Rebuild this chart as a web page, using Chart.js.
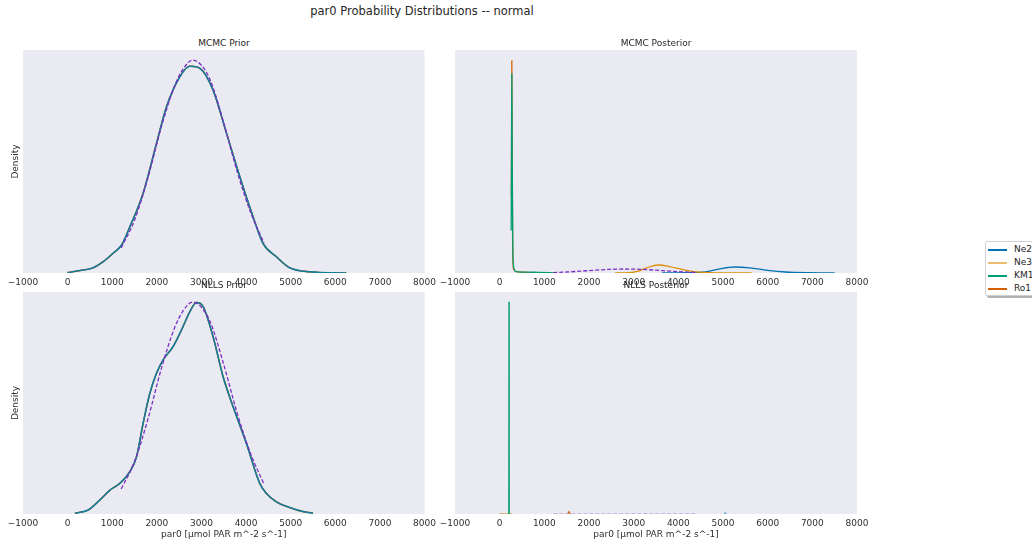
<!DOCTYPE html>
<html>
<head>
<meta charset="utf-8">
<script src="https://cdn.jsdelivr.net/npm/chart.js@4.4.1/dist/chart.umd.min.js"></script>
<style>
body { margin: 0; width: 1032px; height: 544px; position: relative; overflow: hidden; background: #fff; font-family: 'DejaVu Sans', sans-serif; color: #262626; }
canvas { position: absolute; }
.lbl { position: absolute; transform: translate(-50%, -50%); white-space: nowrap; font-size: 9px; }
#title { font-size: 11.5px; }
#legend { position: absolute; left: 985px; top: 241px; width: 70px; height: 53px; background: #fff; border: 1px solid #d0d0d0; border-radius: 2px; box-shadow: 2px 2px 0 rgba(0,0,0,0.3); font-size: 9px; }
#legend .row { position: absolute; left: 0; width: 70px; height: 13px; line-height: 13px; }
#legend .sw { position: absolute; left: 2px; top: 6px; width: 19px; height: 1.5px; }
#legend .tx { position: absolute; left: 28px; top: 0; }
</style>
</head>
<body>
<canvas id="mcmcPrior" width="440" height="244" style="left:0;top:50px"></canvas>
<canvas id="mcmcPost" width="448" height="244" style="left:432px;top:50px"></canvas>
<canvas id="nllsPrior" width="440" height="252" style="left:0;top:292px"></canvas>
<canvas id="nllsPost" width="448" height="252" style="left:432px;top:292px"></canvas>

<div class="lbl" id="title" style="left:422px;top:11px">par0 Probability Distributions -- normal</div>
<div class="lbl" style="left:224px;top:43px">MCMC Prior</div>
<div class="lbl" style="left:656px;top:43px">MCMC Posterior</div>
<div class="lbl" style="left:224px;top:285px">NLLS Prior</div>
<div class="lbl" style="left:656px;top:285px">NLLS Posterior</div>
<div id="legend"></div>

<script>
const siteNames = ['Ne2', 'Ne3', 'KM1', 'Ro1'];
const xMin = -1000;
const xMax = 8000;
const xStep = 1000;
const xLabel = 'par0 [µmol PAR m^-2 s^-1]';

// density values are in units of 1e-4
// prior KDE, same samples for every site
const mcmcPriorX = [0, 276, 574, 798, 1022, 1209, 1395, 1693, 1993, 2217, 2515, 2739, 2962, 3261, 3560, 3858, 4156, 4380, 4679, 4977, 5425, 6246];
const mcmcPriorY = [0.01, 0.06, 0.13, 0.28, 0.49, 0.69, 1.14, 1.97, 3.2, 4.1, 4.84, 5.1, 5.05, 4.51, 3.45, 2.38, 1.39, 0.73, 0.4, 0.13, 0.03, 0];

const nllsPriorX = [164, 462, 724, 948, 1172, 1395, 1545, 1693, 1843, 1993, 2141, 2365, 2552, 2739, 2888, 3037, 3261, 3485, 3709, 4007, 4306, 4455, 4679, 4977, 5276, 5500];
const nllsPriorY = [0.02, 0.1, 0.35, 0.59, 0.76, 1.05, 1.42, 2.25, 2.99, 3.49, 3.82, 4.15, 4.56, 5.01, 5.24, 5.14, 4.39, 3.4, 2.66, 1.75, 0.76, 0.51, 0.3, 0.16, 0.06, 0.02];

// prior normal pdf (dashed)
const priorPdfX = [1200, 1500, 1800, 2100, 2400, 2600, 2800, 3000, 3200, 3500, 3800, 4100, 4400];
const priorPdfY = [0.62, 1.3, 2.35, 3.6, 4.62, 5.05, 5.25, 5.12, 4.75, 3.7, 2.5, 1.5, 0.74];

// MCMC posterior KDEs
const mcmcNe2X = [3630, 4200, 4600, 4900, 5250, 5600, 6000, 6400, 6900, 7500];
const mcmcNe2Y = [0, 0.3, 1.5, 5, 7.9, 6.8, 3.5, 1.3, 0.3, 0];
const mcmcNe3X = [2580, 2900, 3100, 3300, 3550, 3800, 4100, 4400, 4700, 5200, 5640];
const mcmcNe3Y = [0, 0.4, 2.5, 7, 10.5, 8.5, 4.5, 1.5, 0.4, 0.1, 0];
const mcmcKM1X = [258, 265, 272, 280, 295, 320, 360, 500, 800, 1100, 1250];
const mcmcKM1Y = [56, 160, 262, 150, 30, 6, 2, 1.2, 1.0, 0.6, 0];
const mcmcRo1X = [262, 268, 272, 278, 290, 310, 400, 600, 900, 1200];
const mcmcRo1Y = [100, 200, 279, 200, 40, 5, 1.5, 0.8, 0.3, 0];

// NLLS posterior KDEs
const nllsNe2X = [5030, 5050, 5070];
const nllsNe2Y = [0, 60, 0];
const nllsNe3X = [-20, 100, 290];
const nllsNe3Y = [10, 20, 10];
const nllsKM1X = [205, 209, 213];
const nllsKM1Y = [0, 9560, 0];
const nllsRo1X = [1520, 1550, 1580];
const nllsRo1Y = [0, 100, 0];

const yMaxMcmcPrior = 5.5;
const yMaxMcmcPost = 293;
const yMaxNllsPrior = 5.5;
const yMaxNllsPost = 10000;

const colors = { Ne2: '#0173b2', Ne3: '#de8f05', KM1: '#029e73', Ro1: '#d55e00' };
const priorColor = '#7b2fc4';

Chart.defaults.font.family = "'DejaVu Sans', sans-serif";
Chart.defaults.color = '#303030';

const plotBg = {
  id: 'plotBg',
  beforeDraw(chart) {
    const a = chart.chartArea;
    const ctx = chart.ctx;
    ctx.save();
    ctx.fillStyle = '#eaeaf2';
    ctx.fillRect(a.left, a.top, a.right - a.left, a.bottom - a.top);
    ctx.restore();
  }
};

function pts(xs, ys) {
  return xs.map((x, i) => ({ x: x, y: ys[i] }));
}

function line(label, xs, ys, color, order, extra) {
  return Object.assign({
    label: label,
    data: pts(xs, ys),
    borderColor: color,
    borderWidth: 1.3,
    pointRadius: 0,
    fill: false,
    cubicInterpolationMode: 'monotone',
    clip: 0,
    order: order
  }, extra || {});
}

function priorLine(color) {
  return line('prior', priorPdfX, priorPdfY, color || priorColor, -1, { borderDash: [4, 2] });
}

function makeChart(id, datasets, yMax, opts) {
  new Chart(id, {
    type: 'line',
    data: { datasets: datasets },
    options: {
      responsive: false,
      animation: false,
      events: [],
      layout: { padding: { right: opts.padRight } },
      plugins: { legend: { display: false }, tooltip: { enabled: false } },
      scales: {
        x: {
          type: 'linear',
          min: xMin,
          max: xMax,
          grid: { display: false, drawTicks: false },
          border: { display: false },
          ticks: {
            stepSize: xStep,
            autoSkip: false,
            maxRotation: 0,
            padding: 4,
            font: { size: 9 },
            callback: v => v < 0 ? '\u2212' + (-v) : String(v)
          },
          title: {
            display: opts.xTitle,
            text: xLabel,
            font: { size: 9 },
            padding: { top: 0, bottom: 4 }
          },
          afterFit: s => { s.height = opts.xHeight; }
        },
        y: {
          min: 0,
          max: yMax,
          grid: { display: false, drawTicks: false },
          border: { display: false },
          ticks: { display: false },
          title: {
            display: opts.yTitle,
            text: 'Density',
            font: { size: 9 },
            padding: { top: 10, bottom: 0 }
          },
          afterFit: s => { s.width = opts.yWidth; }
        }
      }
    },
    plugins: [plotBg]
  });
}

// every site shares the prior; blue with a faint green on top gives the teal
function priorSet(xs, ys) {
  return [
    line(siteNames[1], xs, ys, colors.Ne3, 3),
    line(siteNames[3], xs, ys, colors.Ro1, 2),
    line(siteNames[0], xs, ys, '#1678a6', 1, { borderWidth: 1.6 }),
    line(siteNames[2], xs, ys, 'rgba(2,158,115,0.15)', 0),
    priorLine()
  ];
}

const leftTop = { padRight: 15, xHeight: 21, yWidth: 23, xTitle: false, yTitle: true };
const rightTop = { padRight: 23, xHeight: 21, yWidth: 23, xTitle: false, yTitle: false };
const leftBot = { padRight: 15, xHeight: 30, yWidth: 23, xTitle: true, yTitle: true };
const rightBot = { padRight: 23, xHeight: 30, yWidth: 23, xTitle: true, yTitle: false };

makeChart('mcmcPrior', priorSet(mcmcPriorX, mcmcPriorY), yMaxMcmcPrior, leftTop);

makeChart('mcmcPost', [
  line('Ne2', mcmcNe2X, mcmcNe2Y, colors.Ne2, 3),
  line('Ne3', mcmcNe3X, mcmcNe3Y, colors.Ne3, 2),
  line('Ro1', mcmcRo1X, mcmcRo1Y, colors.Ro1, 1),
  line('KM1', mcmcKM1X, mcmcKM1Y, colors.KM1, 0),
  priorLine()
], yMaxMcmcPost, rightTop);

makeChart('nllsPrior', priorSet(nllsPriorX, nllsPriorY), yMaxNllsPrior, leftBot);

makeChart('nllsPost', [
  line('Ne2', nllsNe2X, nllsNe2Y, '#6fb0d8', 3, { cubicInterpolationMode: 'default', tension: 0 }),
  line('Ne3', nllsNe3X, nllsNe3Y, '#eeb680', 2),
  line('Ro1', nllsRo1X, nllsRo1Y, colors.Ro1, 1, { cubicInterpolationMode: 'default', tension: 0 }),
  line('KM1', nllsKM1X, nllsKM1Y, colors.KM1, 0, { cubicInterpolationMode: 'default', tension: 0 }),
  priorLine('#c3a3e0')
], yMaxNllsPost, rightBot);

// legend
const legend = document.getElementById('legend');
siteNames.forEach((name, i) => {
  const row = document.createElement('div');
  row.className = 'row';
  row.style.top = (1 + i * 13) + 'px';
  const sw = document.createElement('div');
  sw.className = 'sw';
  sw.style.background = name === 'Ne3' ? '#ecbc74' : colors[name];
  const tx = document.createElement('div');
  tx.className = 'tx';
  tx.textContent = name;
  row.appendChild(sw);
  row.appendChild(tx);
  legend.appendChild(row);
});
</script>
</body>
</html>
